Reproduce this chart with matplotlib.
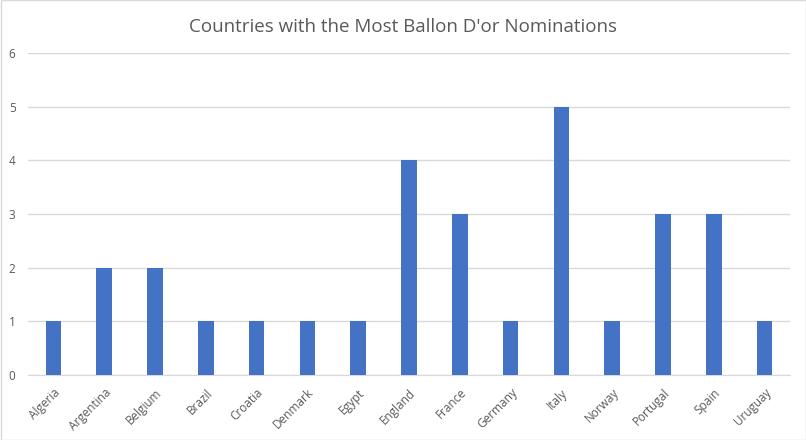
import numpy as np
import matplotlib.pyplot as plt
from matplotlib.patches import Rectangle

plt.rcParams['font.family'] = ['Open Sans', 'DejaVu Sans']

countries = ['Algeria', 'Argentina', 'Belgium', 'Brazil', 'Croatia', 'Denmark', 'Egypt',
             'England', 'France', 'Germany', 'Italy', 'Norway', 'Portugal', 'Spain', 'Uruguay']
nominations = [1, 2, 2, 1, 1, 1, 1, 4, 3, 1, 5, 1, 3, 3, 1]

fig = plt.figure(figsize=(8.06, 4.4), dpi=100)
ax = fig.add_axes([28 / 806, 1 - 375 / 440, 762 / 806, 322 / 440])

x = np.arange(len(countries))
ax.bar(x, nominations, width=0.31, color='#4472C4', zorder=3)

ax.set_xlim(-0.5, len(countries) - 0.5)
ax.set_ylim(0, 6)
ax.set_yticks(range(0, 7))
ax.yaxis.grid(True, color='#D9D9D9', linewidth=1, zorder=0)
ax.set_xticks(x)
ax.set_xticklabels(countries, rotation=45, ha='right', rotation_mode='anchor')
ax.tick_params(axis='both', length=0, labelsize=8.5, colors='#595959')
ax.tick_params(axis='y', pad=9)
ax.tick_params(axis='x', pad=8)
for side in ['top', 'right', 'left']:
    ax.spines[side].set_visible(False)
ax.spines['bottom'].set_color('#D9D9D9')

fig.suptitle("Countries with the Most Ballon D'or Nominations", y=0.96, fontsize=13.5, color='#595959')

# light border round the chart area
fig.patches.append(Rectangle((0.5 / 806, 0.5 / 440), 1 - 1 / 806, 1 - 1 / 440, transform=fig.transFigure,
                             fill=False, edgecolor='#D9D9D9', linewidth=1))

plt.savefig('out.png', dpi=100)
